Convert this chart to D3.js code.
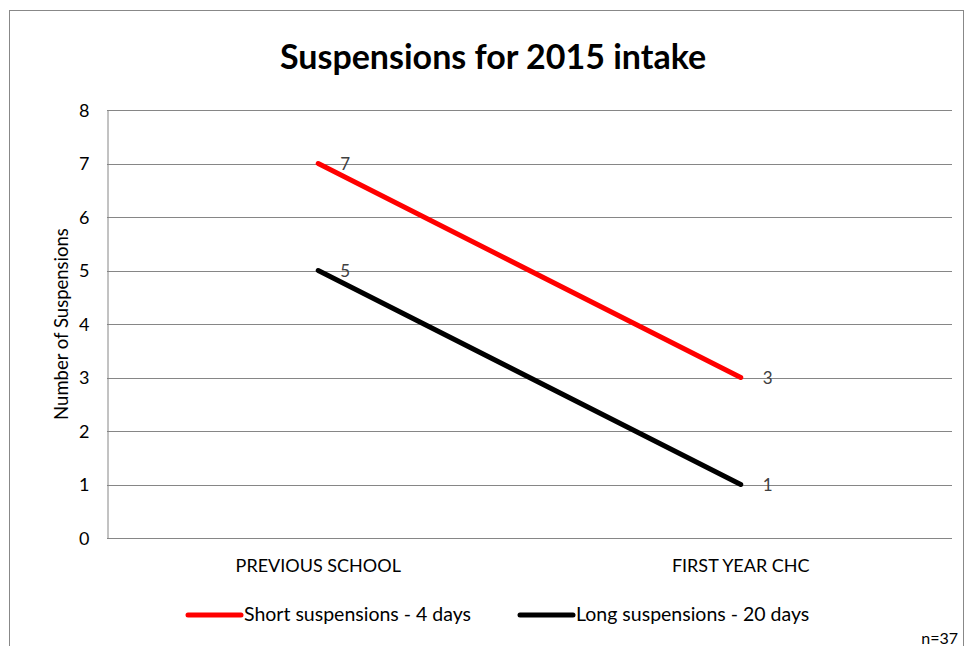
<!DOCTYPE html>
<html>
<head>
<meta charset="utf-8">
<script src="https://cdn.jsdelivr.net/npm/d3@7"></script>
<style>
  body { margin: 0; background: #fff; }
  svg { display: block; font-family: Lato, "Open Sans", sans-serif; }
</style>
</head>
<body>
<div id="chart"></div>
<script>
// data
var categories = ["PREVIOUS SCHOOL", "FIRST YEAR CHC"];
var shortSusp = [7, 3];
var longSusp = [5, 1];
var seriesNames = ["Short suspensions - 4 days", "Long suspensions - 20 days"];
var seriesColors = ["#ff0000", "#000000"];
var yTicks = [0, 1, 2, 3, 4, 5, 6, 7, 8];

var width = 967, height = 646;
var margin = {left: 107, right: 15, top: 110, bottom: 108};

var svg = d3.select("#chart").append("svg")
    .attr("width", width)
    .attr("height", height);

svg.append("rect")
    .attr("x", 9.5).attr("y", 10.5)
    .attr("width", width - 13).attr("height", height)
    .attr("fill", "#fff")
    .attr("stroke", "#888").attr("stroke-width", 1);

var x = d3.scaleBand()
    .domain(categories)
    .range([margin.left, width - margin.right]);

var y = d3.scaleLinear()
    .domain([0, 8])
    .range([height - margin.bottom, margin.top]);

// gridlines
svg.append("g")
    .selectAll("line")
    .data(yTicks)
    .join("line")
    .attr("x1", margin.left).attr("x2", width - margin.right)
    .attr("y1", function(d) { return Math.round(y(d)) + 0.5; })
    .attr("y2", function(d) { return Math.round(y(d)) + 0.5; })
    .attr("stroke", "#868686").attr("stroke-width", 1);

// y axis
var yAxis = svg.append("g")
    .attr("transform", "translate(" + (margin.left + 0.5) + ",0.5)")
    .call(d3.axisLeft(y).tickValues(yTicks).tickSize(0).tickPadding(18));
yAxis.select(".domain").attr("stroke", "#868686");
yAxis.selectAll("text").attr("font-size", 18).attr("fill", "#000")
    .attr("font-family", "Lato, sans-serif");

// x axis
var xAxis = svg.append("g")
    .attr("transform", "translate(0," + (height - margin.bottom + 0.5) + ")")
    .call(d3.axisBottom(x).tickSize(0).tickPadding(21));
xAxis.select(".domain").remove();
xAxis.selectAll("text").attr("font-size", 18).attr("fill", "#000")
    .attr("font-family", "Lato, sans-serif");

// title
svg.append("text")
    .attr("x", 493).attr("y", 69)
    .attr("text-anchor", "middle")
    .attr("font-size", 34).attr("font-weight", "bold")
    .text("Suspensions for 2015 intake");

// y axis title
svg.append("text")
    .attr("transform", "translate(68," + ((y(0) + y(8)) / 2) + ") rotate(-90)")
    .attr("text-anchor", "middle")
    .attr("font-size", 18.5)
    .text("Number of Suspensions");

var line = d3.line()
    .x(function(d, i) { return x(categories[i]) + x.bandwidth() / 2; })
    .y(function(d) { return y(d); });

[shortSusp, longSusp].forEach(function(values, s) {
    svg.append("path")
        .datum(values)
        .attr("d", line)
        .attr("fill", "none")
        .attr("stroke", seriesColors[s])
        .attr("stroke-width", 5)
        .attr("stroke-linecap", "round");

    svg.append("g")
        .selectAll("text")
        .data(values)
        .join("text")
        .attr("x", function(d, i) { return x(categories[i]) + x.bandwidth() / 2 + 22; })
        .attr("y", function(d) { return y(d) + 6; })
        .attr("font-size", 17)
        .attr("fill", "#404040")
        .text(function(d) { return d; });
});

// legend
var legendX = [186, 518];
var legend = svg.append("g");
seriesNames.forEach(function(name, s) {
    legend.append("line")
        .attr("x1", legendX[s] + 2).attr("x2", legendX[s] + 55)
        .attr("y1", 615).attr("y2", 615)
        .attr("stroke", seriesColors[s])
        .attr("stroke-width", 5)
        .attr("stroke-linecap", "round");
    legend.append("text")
        .attr("x", legendX[s] + 58).attr("y", 621)
        .attr("font-size", 19.5)
        .text(name);
});

svg.append("text")
    .attr("x", 958).attr("y", 644)
    .attr("text-anchor", "end")
    .attr("font-size", 16)
    .text("n=37");
</script>
</body>
</html>
